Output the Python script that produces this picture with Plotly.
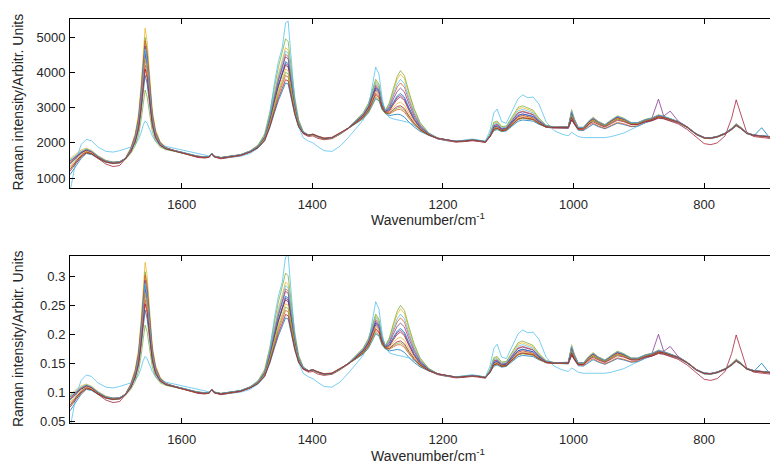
import plotly.graph_objects as go
from plotly.subplots import make_subplots

# ---------------- data ----------------
wavenumber = [1771,1762,1754,1746,1738,1728,1716,1705,1695,
    1686,1678,1671,1666,1662,1659,1656,1653,1649,1645,1640,1633,1624,1612,
    1600,1588,1576,1565,1558,1554,1550,1540,1525,1510,
    1495,1483,1473,1465,1458,1452,1446,1441,1437,1432,1427,1421,1414,1406,
    1399,1392,1382,1370,1358,
    1345,1333,1322,1314,1308,1303,1298,1293,1288,
    1282,1276,1270,1265,1259,1252,1244,1235,1222,1208,1195,
    1180,1165,1155,1145,1135,
    1128,1122,1117,1110,1103,1094,1085,1078,1070,1062,1053,1042,1030,1018,1008,
    1003,999,993,985,976,970,962,952,942,933,923,912,902,890,880,870,862,852,840,
    826,812,800,790,780,768,758,751,744,735,724,712,700,687]

spec_g = [1100,1330,1560,1700,1670,1560,1450,1410,1430,
    1546,1736,2010,2361,2904,3525,3915,3688,3000,2465,2124,1920,1825,1773,
    1715,1655,1605,1585,1595,1685,1605,1565,1595,1645,
    1744,1858,2054,2434,2852,3195,3464,3697,3670,3274,2803,2446,2274,2215,
    2240,2190,2130,2150,2270,
    2413,2551,2688,2852,3069,3253,3196,2935,2827,
    2773,2795,2812,2797,2732,2588,2452,2329,2215,2125,2075,
    2035,2055,2075,2055,2025,
    2166,2348,2378,2319,2342,2484,2613,2650,2630,2617,2525,2446,2433,2420,2410,
    2650,2520,2360,2350,2470,2530,2460,2400,2480,2560,2520,2460,2470,2570,2630,2710,2690,2640,2570,
    2430,2230,2130,2120,2160,2250,2370,2480,2400,2260,2200,2430,2150,2130]

spec_f = [1300,1460,1630,1740,1700,1580,1460,1420,1440,
    1552,1764,2071,2465,3076,3775,4213,3954,3174,2567,2179,1946,1836,1776,
    1720,1660,1610,1590,1600,1690,1610,1570,1600,1650,
    1750,1873,2087,2509,2972,3353,3650,3906,3871,3421,2889,2482,2283,2217,
    2250,2200,2140,2160,2280,
    2416,2567,2718,2901,3146,3352,3281,2973,2845,
    2818,2885,2943,2950,2876,2693,2515,2360,2224,2130,2080,
    2040,2060,2080,2060,2030,
    2176,2378,2408,2337,2359,2518,2662,2700,2674,2656,2547,2453,2435,2430,2420,
    2700,2540,2380,2370,2500,2560,2480,2410,2500,2580,2540,2470,2480,2580,2640,2720,2700,2650,2580,
    2440,2240,2140,2130,2170,2260,2380,2490,2410,2270,2210,2190,2160,2140]

spec_b = [1550,1680,1800,1850,1790,1640,1510,1460,1470,
    1570,1860,2280,2830,3680,4650,5250,4890,3780,2920,2370,2040,1870,1790,
    1740,1680,1630,1610,1620,1710,1630,1590,1620,1670,
    1770,1930,2210,2790,3430,3950,4350,4700,4630,3980,3210,2620,2320,2220,
    2230,2170,2110,2130,2250,
    2420,2630,2840,3100,3450,3750,3620,3130,2920,
    3110,3480,3800,3950,3820,3380,2930,2560,2280,2130,2080,
    2040,2060,2090,2060,2030,
    2240,2560,2590,2450,2460,2720,2960,3000,2940,2890,2680,2500,2450,2450,2450,
    2950,2700,2440,2440,2640,2730,2610,2520,2660,2770,2700,2580,2570,2670,2710,2800,2760,2700,2610,
    2460,2260,2150,2140,2180,2280,2420,2550,2450,2290,2220,2200,2170,2150]

spec_l = [1420,1570,1715,1800,1745,1600,1480,1440,1455,
    1560,1790,2130,2570,3250,4020,4500,4210,3340,2660,2230,1970,1845,1778,
    1730,1670,1620,1600,1610,1700,1620,1580,1610,1660,
    1758,1895,2140,2630,3170,3610,3950,4250,4200,3660,3020,2540,2296,2220,
    2240,2180,2120,2140,2260,
    2420,2600,2780,3000,3300,3560,3460,3050,2880,
    2940,3120,3290,3350,3250,2960,2670,2430,2245,2130,2080,
    2040,2060,2080,2060,2030,
    2200,2450,2480,2380,2400,2600,2780,2820,2780,2750,2600,2470,2440,2450,2450,
    2800,2590,2425,2425,2590,2670,2575,2495,2610,2710,2650,2555,2555,2645,2700,3240,2760,2900,2620,
    2450,2250,2150,2140,2180,2270,2400,2520,2430,2280,2220,2200,2170,2150]

spec_c = [1480,1610,1750,1820,1760,1620,1490,1450,1460,
    1568,1836,2229,2735,3524,4425,4987,4646,3626,2833,2322,2014,1864,1784,
    1735,1675,1625,1600,1610,1705,1620,1585,1615,1665,
    1777,1945,2254,2882,3575,4140,4577,4950,4874,4159,3316,2662,2328,2226,
    2250,2190,2130,2150,2270,
    2426,2642,2858,3126,3496,3802,3666,3148,2925,
    3140,3530,3885,4046,3908,3441,2966,2579,2288,2140,2085,
    2050,2070,2090,2070,2040,
    2246,2588,2618,2463,2478,2756,3005,3050,2982,2929,2701,2502,2449,2460,2455,
    2900,2670,2440,2440,2620,2710,2600,2510,2640,2750,2690,2570,2570,2660,2700,2780,2750,2690,2600,
    2440,2240,2140,2130,2170,2260,2390,2510,2420,2270,2210,2190,2160,2140]

spec_j = [600,1500,1950,2100,2060,1880,1760,1740,1780,
    1830,1880,1960,2100,2300,2500,2620,2560,2380,2200,2050,1960,1900,1850,
    1800,1760,1700,1650,1630,1680,1610,1560,1580,1620,
    1700,1850,2150,2800,3700,4300,4700,5400,5450,4300,3200,2450,2150,2050,
    2000,1900,1780,1760,1900,
    2150,2400,2650,3000,3600,4150,3950,3250,2850,
    2720,2680,2660,2640,2620,2580,2500,2400,2250,2120,2060,
    2050,2090,2110,2080,2050,
    2350,2850,2960,2600,2560,2900,3250,3360,3280,3300,3100,2600,2350,2250,2200,
    2300,2250,2180,2150,2150,2140,2140,2150,2180,2220,2280,2380,2470,2600,2680,2760,2740,2680,2600,
    2450,2250,2150,2140,2180,2270,2400,2520,2430,2280,2220,2200,2170,2150]

spec_k = [1250,1450,1650,1760,1700,1560,1400,1330,1360,
    1556,1780,2107,2527,3180,3925,4391,4114,3278,2629,2212,1962,1842,1778,
    1700,1640,1590,1570,1590,1690,1600,1550,1590,1640,
    1740,1880,2130,2620,3150,3600,3950,4200,4150,3620,2990,2510,2260,2180,
    2200,2130,2090,2120,2240,
    2400,2590,2760,2980,3260,3500,3400,3020,2860,
    2900,3080,3240,3300,3200,2920,2640,2410,2230,2110,2060,
    2020,2040,2060,2040,2010,
    2180,2420,2450,2360,2380,2570,2740,2780,2740,2710,2570,2440,2420,2430,2430,
    2650,2560,2400,2400,2560,2640,2550,2470,2580,2680,2630,2530,2520,2600,2630,2700,2680,2620,2540,
    2380,2150,1980,1950,2000,2200,2700,3220,2800,2300,2180,2150,2120,2100]

spec_a = [1400,1550,1700,1790,1740,1600,1480,1440,1460,
    1560,1800,2150,2600,3300,4100,4600,4300,3400,2700,2250,1980,1850,1780,
    1730,1670,1620,1600,1610,1700,1620,1580,1610,1660,
    1760,1900,2150,2650,3200,3650,4000,4300,4250,3700,3050,2550,2300,2220,
    2240,2180,2120,2140,2260,
    2420,2600,2780,3000,3300,3550,3450,3050,2880,
    2950,3150,3330,3400,3300,3000,2700,2450,2250,2130,2080,
    2040,2060,2080,2060,2030,
    2200,2450,2480,2380,2400,2600,2780,2820,2780,2750,2600,2470,2440,2450,2450,
    2850,2650,2430,2430,2600,2680,2580,2500,2620,2720,2660,2560,2560,2650,2690,2770,2740,2680,2600,
    2450,2250,2150,2140,2180,2270,2400,2520,2430,2280,2220,2200,2170,2150]

spec_d = [1430,1580,1730,1810,1750,1610,1490,1450,1465,
    1566,1828,2211,2704,3472,4350,4898,4566,3574,2802,2305,2006,1861,1783,
    1725,1665,1615,1595,1605,1690,1615,1575,1605,1655,
    1765,1914,2183,2725,3321,3808,4185,4509,4451,3848,3136,2586,2309,2222,
    2235,2175,2115,2135,2255,
    2422,2617,2811,3050,3377,3649,3535,3089,2898,
    3038,3325,3586,3698,3580,3203,2823,2510,2268,2130,2080,
    2035,2055,2075,2055,2025,
    2216,2498,2528,2409,2427,2654,2858,2900,2850,2812,2635,2481,2443,2450,2450,
    2820,2620,2425,2425,2590,2670,2575,2495,2610,2710,2650,2555,2555,2645,2685,2760,2735,2675,2595,
    2445,2245,2145,2135,2175,2265,2395,2515,2425,2275,2215,2195,2165,2145]

spec_e = [1350,1510,1670,1770,1720,1590,1470,1430,1450,
    1556,1780,2107,2527,3180,3925,4391,4114,3278,2629,2212,1962,1842,1778,
    1725,1665,1615,1595,1605,1695,1615,1575,1605,1655,
    1755,1886,2117,2575,3079,3493,3815,4091,4049,3552,2965,2514,2291,2218,
    2245,2185,2125,2145,2265,
    2418,2584,2749,2951,3223,3451,3365,3012,2862,
    2878,3005,3118,3154,3068,2832,2599,2401,2236,2130,2080,
    2045,2065,2085,2065,2035,
    2186,2408,2438,2355,2376,2552,2711,2750,2718,2695,2569,2460,2437,2450,2450,
    2780,2600,2430,2430,2580,2650,2570,2500,2600,2690,2640,2560,2560,2640,2680,2750,2730,2670,2590,
    2450,2250,2150,2140,2180,2270,2390,2500,2420,2280,2220,2200,2170,2150]

spec_i = [1480,1600,1720,1800,1745,1605,1485,1445,1462,
    1563,1814,2181,2652,3386,4225,4749,4433,3487,2751,2278,1993,1856,1782,
    1735,1672,1622,1602,1612,1700,1622,1582,1612,1662,
    1764,1910,2172,2700,3280,3755,4124,4439,4384,3798,3107,2574,2306,2221,
    2245,2185,2125,2145,2265,
    2421,2609,2797,3027,3342,3604,3496,3071,2890,
    2995,3240,3461,3553,3444,3104,2763,2481,2259,2135,2085,
    2045,2065,2085,2065,2035,
    2212,2486,2516,2402,2420,2641,2839,2880,2833,2797,2626,2478,2442,2455,2455,
    2870,2660,2435,2435,2610,2690,2590,2505,2630,2730,2670,2565,2565,2655,2695,2775,2745,2685,2600,
    2455,2255,2155,2145,2185,2275,2405,2525,2435,2285,2225,2205,2175,2155]

spec_h = [1250,1420,1600,1720,1690,1570,1460,1420,1440,
    1538,1696,1924,2215,2664,3175,3497,3316,2756,2323,2047,1884,1809,1769,
    1730,1670,1620,1600,1610,1700,1620,1580,1610,1660,
    1752,1879,2102,2542,3026,3423,3732,3998,3960,3487,2927,2498,2287,2217,
    2230,2170,2110,2130,2250,
    2414,2558,2702,2874,3104,3298,3234,2952,2835,
    2833,2915,2987,3001,2924,2727,2536,2370,2227,2130,2080,
    2040,2060,2080,2060,2030,
    2176,2378,2408,2337,2359,2518,2662,2700,2674,2656,2547,2453,2435,2440,2440,
    2760,2580,2420,2410,2560,2630,2550,2480,2580,2670,2620,2540,2540,2630,2670,2740,2720,2660,2590,
    2450,2250,2150,2140,2180,2270,2390,2510,2420,2280,2220,2200,2170,2150]

spec_m = [1520,1640,1760,1830,1770,1625,1495,1455,1468,
    1561,1806,2162,2621,3334,4150,4660,4353,3435,2720,2261,1985,1852,1781,
    1740,1678,1628,1606,1616,1706,1626,1586,1616,1666,
    1768,1921,2198,2758,3374,3878,4268,4602,4540,3913,3174,2602,2313,2223,
    2240,2180,2120,2140,2260,
    2423,2626,2828,3077,3419,3703,3581,3110,2907,
    3068,3385,3673,3800,3676,3273,2865,2530,2274,2130,2080,
    2050,2070,2090,2070,2040,
    2226,2528,2558,2427,2444,2688,2907,2950,2894,2851,2657,2488,2445,2455,2455,
    2920,2680,2440,2440,2630,2710,2600,2515,2650,2760,2690,2575,2575,2665,2705,2790,2755,2695,2605,
    2455,2255,2155,2145,2185,2280,2410,2535,2440,2285,2225,2205,2175,2155]

spec_n = [1200,1400,1600,1720,1690,1570,1460,1420,1440,
    1550,1752,2046,2423,3008,3675,4093,3848,3104,2527,2157,1936,1831,1775,
    1720,1660,1610,1590,1600,1690,1610,1570,1600,1650,
    1747,1865,2069,2467,2905,3265,3547,3790,3759,3339,2841,2462,2278,2216,
    2245,2185,2125,2145,2265,
    2417,2575,2732,2924,3181,3397,3319,2991,2853,
    2848,2945,3031,3052,2972,2762,2557,2380,2230,2130,2080,
    2040,2060,2080,2060,2030,
    2180,2390,2420,2344,2366,2532,2682,2720,2692,2672,2556,2456,2436,2440,2440,
    2720,2560,2400,2390,2540,2600,2520,2450,2550,2640,2600,2520,2520,2610,2660,2740,2720,2660,2590,
    2445,2245,2145,2135,2175,2265,2385,2500,2415,2275,2215,2195,2165,2145]

spectra = [spec_g, spec_f, spec_b, spec_l, spec_c, spec_j, spec_k,
           spec_a, spec_d, spec_e, spec_i, spec_h, spec_m, spec_n]

# normalisation divisor used for the lower (normalised) panel
NORMALISATION = 16200.0

x_title = "Wavenumber/cm<sup>-1</sup>"
y_title = "Raman intensity/Arbitr. Units"

for s in spectra:
    if len(s) != len(wavenumber):
        raise ValueError("length mismatch %d vs %d" % (len(s), len(wavenumber)))

# ---------------- style ----------------
colors = ["#0072BD", "#D95319", "#EDB120", "#7E2F8E", "#77AC30", "#4DBEEE", "#A2142F"]
FONT = "Liberation Sans, Arial, Helvetica, sans-serif"
TXT = "#262626"

fig = make_subplots(rows=2, cols=1, vertical_spacing=0.17)

for i, s in enumerate(spectra):
    c = colors[i % len(colors)]
    fig.add_trace(go.Scatter(x=wavenumber, y=s, mode="lines",
                             line=dict(color=c, width=0.75), showlegend=False,
                             hoverinfo="skip"), row=1, col=1)
    fig.add_trace(go.Scatter(x=wavenumber, y=[v / NORMALISATION for v in s], mode="lines",
                             line=dict(color=c, width=0.75), showlegend=False,
                             hoverinfo="skip"), row=2, col=1)

axis_common = dict(showline=True, linecolor="#000000", linewidth=1,
                   ticks="inside", ticklen=5, tickcolor="#000000", tickwidth=1,
                   showgrid=False, zeroline=False, automargin=False,
                   tickfont=dict(family=FONT, size=13, color=TXT))

xcommon = dict(axis_common, range=[1771, 687], tickvals=[800, 1000, 1200, 1400, 1600],
               mirror="ticks", ticklabelstandoff=4)

fig.update_xaxes(xcommon, row=1, col=1)
fig.update_xaxes(xcommon, row=2, col=1)
fig.update_yaxes(axis_common, row=1, col=1, range=[725, 5510], ticklabelstandoff=1,
                 tickvals=[1000, 2000, 3000, 4000, 5000])
fig.update_yaxes(axis_common, row=2, col=1, range=[0.0469, 0.3357], ticklabelstandoff=1,
                 tickvals=[0.05, 0.1, 0.15, 0.2, 0.25, 0.3],
                 ticktext=["0.05", "0.1", "0.15", "0.2", "0.25", "0.3"])

# The page body has an 8 px default margin, so the figure is drawn 8 px right/down.
OFF = 8
# plot area on screen: x 70..778 px, y 19..423.5 px
PL, PW, PT, PH = 70.0, 708.0, 19.0, 404.5
def px(x):
    return (x - PL) / PW
def py(y):
    return (PT + PH - y) / PH

title_font = dict(family=FONT, size=14, color=TXT)
for yc in (219.5, 455.5):
    fig.add_annotation(text=x_title, xref="paper", yref="paper", x=px(427.5), y=py(yc),
                       xanchor="center", yanchor="middle", showarrow=False, font=title_font)
for yc in (102.0, 339.0):
    fig.add_annotation(text=y_title, xref="paper", yref="paper", x=px(17.5), y=py(yc),
                       xanchor="center", yanchor="middle", showarrow=False, textangle=-90,
                       font=title_font)

W, H = 778 - OFF, 466 - OFF
fig.update_layout(
    width=W, height=H,
    margin=dict(l=PL - OFF, r=0, t=PT - OFF, b=H - (PT + PH - OFF)),
    paper_bgcolor="white", plot_bgcolor="white",
    font=dict(family=FONT, color=TXT),
)
fig.layout.yaxis.domain = [0.5819, 1.0]
fig.layout.yaxis2.domain = [0.0, 0.4144]

fig.write_html("out.html")
